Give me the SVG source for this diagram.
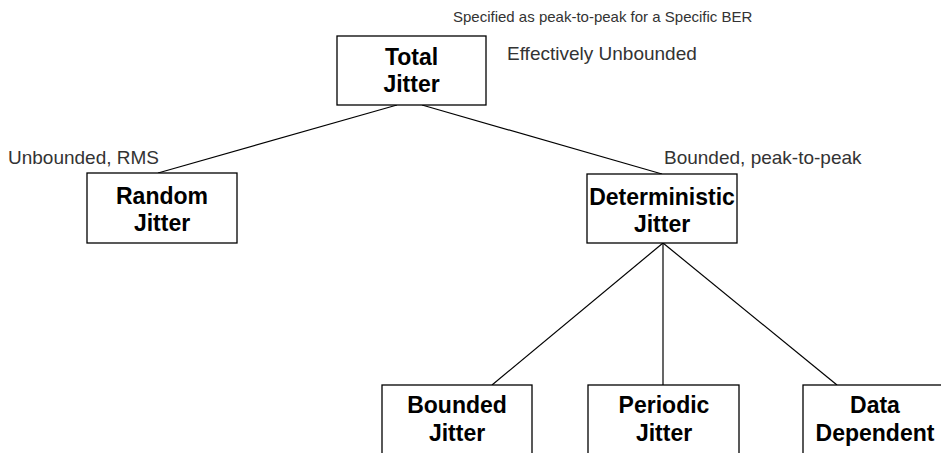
<svg xmlns="http://www.w3.org/2000/svg" width="941" height="453" viewBox="0 0 941 453">
<style>
.box{fill:#fff;stroke:#000;stroke-width:1.3}
.t{font-family:"Liberation Sans",Arial,sans-serif;font-weight:bold;font-size:23px;fill:#000;text-anchor:middle}
.n{font-family:"Liberation Sans",Arial,sans-serif;font-size:19px;fill:#333}
.s{font-size:15px}
.c line{stroke:#000;stroke-width:1.2}
</style>
<rect width="941" height="453" fill="#fff"/>
<g id="connectors" class="c">
<line x1="397" y1="105" x2="158" y2="173"/>
<line x1="422" y1="105" x2="662" y2="174"/>
<line x1="663" y1="243" x2="492" y2="385"/>
<line x1="663" y1="243" x2="663" y2="385"/>
<line x1="663" y1="243" x2="837" y2="385"/>
</g>
<g id="total">
<rect class="box" x="337" y="36" width="149" height="69"/>
<text class="t" x="411.5" y="65">Total</text>
<text class="t" x="411.5" y="92">Jitter</text>
</g>
<g id="random">
<rect class="box" x="87" y="173" width="150" height="70"/>
<text class="t" x="162" y="204">Random</text>
<text class="t" x="162" y="231">Jitter</text>
</g>
<g id="deterministic">
<rect class="box" x="587" y="174" width="150" height="69"/>
<text class="t" x="662" y="205">Deterministic</text>
<text class="t" x="662" y="232">Jitter</text>
</g>
<g id="bounded">
<rect class="box" x="382" y="385" width="150" height="80"/>
<text class="t" x="457" y="413">Bounded</text>
<text class="t" x="457" y="441">Jitter</text>
</g>
<g id="periodic">
<rect class="box" x="588" y="385" width="151" height="80"/>
<text class="t" x="664" y="413">Periodic</text>
<text class="t" x="664" y="441">Jitter</text>
</g>
<g id="datadependent">
<rect class="box" x="803" y="385" width="150" height="80"/>
<text class="t" x="875" y="413">Data</text>
<text class="t" x="875" y="441">Dependent</text>
</g>
<g id="labels">
<text class="n s" x="453" y="22">Specified as peak-to-peak for a Specific BER</text>
<text class="n" x="507" y="60">Effectively Unbounded</text>
<text class="n" x="8" y="164">Unbounded, RMS</text>
<text class="n" x="664" y="164">Bounded, peak-to-peak</text>
</g>
</svg>
